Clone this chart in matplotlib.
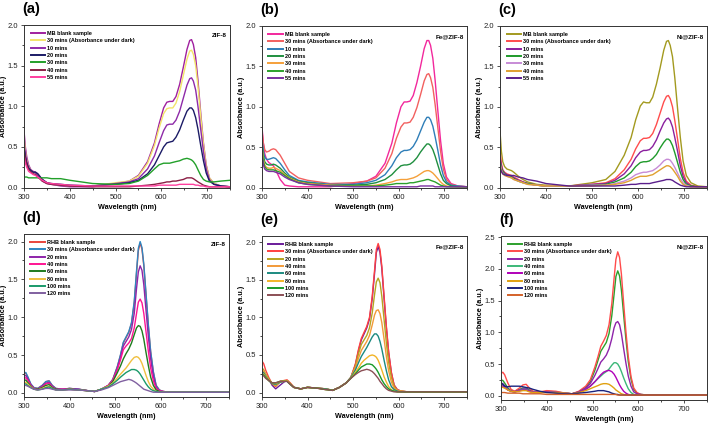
import matplotlib
matplotlib.use("Agg")
import matplotlib.pyplot as plt
from matplotlib.ticker import MultipleLocator

plt.rcParams['font.family'] = ['Liberation Sans', 'DejaVu Sans']
plt.rcParams['font.weight'] = 'bold'

# ---------------- wavelength grids ----------------
W_MB = [300, 303, 306, 310, 315, 320, 325, 330, 340, 350, 360, 380, 400, 450, 500, 530, 550, 570, 585, 595,
        605, 612, 618, 625, 632, 640, 648, 656, 662, 666, 670, 675, 680, 686, 692, 698, 705, 715, 730, 750]
W_RB = [300, 304, 308, 315, 322, 330, 340, 348, 355, 362, 370, 385, 400, 420, 440, 455, 470, 485, 495, 505,
        512, 518, 524, 530, 536, 542, 547, 551, 555, 559, 563, 568, 573, 578, 584, 590, 597, 605, 620, 650, 700, 750]

LABELS_MB = ["MB blank sample", "30 mins (Absorbance under dark)", "10 mins", "20 mins", "30 mins", "40 mins", "55 mins"]
LABELS_RB = ["RHB blank sample", "30 mins (Absorbance under dark)", "20 mins", "40 mins", "60 mins", "80 mins", "100 mins", "120 mins"]

# ---------------- panel (a) ZIF-8 / MB ----------------
A_COLORS = ["#A0209F", "#F2E46A", "#8E2AA8", "#1B1B66", "#22A02A", "#8B1F45", "#FF3D9E"]
A_BLANK = [0.70,0.50,0.38,0.28,0.22,0.20,0.19,0.17,0.10,0.06,0.04,0.02,0.01,0.01,0.05,0.08,0.15,0.32,0.55,0.78,
           0.98,1.05,1.06,1.06,1.12,1.27,1.48,1.70,1.81,1.82,1.76,1.60,1.32,0.92,0.55,0.28,0.12,0.05,0.02,0.01]
A_30D = [0.62,0.45,0.34,0.26,0.21,0.19,0.18,0.16,0.09,0.05,0.04,0.03,0.02,0.02,0.06,0.08,0.14,0.30,0.52,0.73,
         0.91,0.97,0.98,0.98,1.04,1.18,1.38,1.58,1.68,1.69,1.64,1.50,1.25,0.88,0.53,0.27,0.12,0.05,0.02,0.01]
A_10 = [0.55,0.42,0.32,0.25,0.21,0.19,0.18,0.15,0.08,0.05,0.04,0.03,0.02,0.02,0.05,0.07,0.11,0.23,0.39,0.55,
        0.70,0.77,0.78,0.78,0.83,0.94,1.10,1.26,1.34,1.35,1.31,1.20,1.00,0.72,0.44,0.23,0.10,0.04,0.02,0.01]
A_20 = [0.50,0.38,0.30,0.24,0.21,0.19,0.19,0.17,0.10,0.06,0.05,0.04,0.03,0.02,0.04,0.06,0.09,0.17,0.28,0.39,
        0.50,0.55,0.56,0.57,0.62,0.71,0.83,0.94,0.98,0.98,0.95,0.86,0.72,0.52,0.33,0.18,0.08,0.04,0.02,0.01]
A_30 = [0.13,0.13,0.13,0.12,0.12,0.12,0.12,0.12,0.12,0.12,0.11,0.11,0.09,0.05,0.04,0.05,0.08,0.15,0.23,0.28,
        0.30,0.30,0.30,0.31,0.32,0.33,0.35,0.36,0.35,0.34,0.32,0.28,0.22,0.15,0.10,0.08,0.07,0.07,0.08,0.09]
A_40 = [0.45,0.35,0.28,0.22,0.19,0.17,0.16,0.13,0.08,0.05,0.04,0.03,0.02,0.01,0.01,0.01,0.02,0.03,0.04,0.05,
        0.06,0.07,0.07,0.08,0.08,0.09,0.10,0.12,0.12,0.12,0.11,0.09,0.07,0.05,0.03,0.02,0.01,0.01,0.01,0.01]
A_55 = [0.40,0.30,0.25,0.20,0.18,0.16,0.15,0.13,0.09,0.06,0.05,0.04,0.03,0.02,0.02,0.02,0.02,0.02,0.02,0.03,
        0.03,0.03,0.03,0.03,0.03,0.04,0.04,0.04,0.04,0.04,0.04,0.03,0.03,0.02,0.02,0.01,0.01,0.01,0.01,0.01]

# ---------------- panel (b) Fe@ZIF-8 / MB ----------------
B_COLORS = ["#F2289C", "#F2605F", "#2F7EB8", "#1F8F3F", "#F5A03A", "#2CA02C", "#7B2FA0"]
B_BLANK = [0.75,0.55,0.42,0.35,0.31,0.29,0.27,0.22,0.10,0.03,0.02,0.01,0.01,0.01,0.05,0.08,0.14,0.30,0.55,0.80,
           1.00,1.06,1.06,1.07,1.14,1.30,1.50,1.72,1.82,1.82,1.76,1.60,1.33,0.95,0.58,0.30,0.13,0.05,0.02,0.01]
B_30D = [0.70,0.55,0.47,0.44,0.45,0.47,0.48,0.47,0.40,0.30,0.20,0.12,0.09,0.05,0.06,0.08,0.12,0.24,0.42,0.61,
         0.75,0.80,0.80,0.81,0.87,0.99,1.15,1.32,1.40,1.41,1.36,1.24,1.03,0.74,0.45,0.23,0.10,0.04,0.02,0.01]
B_10 = [0.60,0.45,0.38,0.35,0.35,0.36,0.37,0.36,0.30,0.22,0.15,0.09,0.07,0.04,0.04,0.06,0.09,0.16,0.27,0.37,
        0.44,0.46,0.46,0.47,0.51,0.59,0.70,0.81,0.87,0.87,0.84,0.76,0.63,0.46,0.28,0.15,0.07,0.03,0.02,0.01]
B_20 = [0.55,0.40,0.32,0.29,0.28,0.28,0.29,0.28,0.24,0.18,0.13,0.08,0.06,0.03,0.03,0.04,0.06,0.10,0.16,0.22,
        0.27,0.28,0.28,0.29,0.32,0.37,0.44,0.50,0.54,0.54,0.52,0.47,0.39,0.28,0.17,0.09,0.05,0.02,0.01,0.01]
B_30 = [0.50,0.35,0.28,0.25,0.24,0.24,0.25,0.24,0.21,0.16,0.12,0.07,0.05,0.03,0.02,0.02,0.03,0.05,0.07,0.09,
        0.10,0.10,0.10,0.11,0.12,0.14,0.17,0.20,0.21,0.21,0.20,0.18,0.15,0.11,0.07,0.04,0.02,0.01,0.01,0.01]
B_40 = [0.45,0.32,0.26,0.23,0.22,0.22,0.22,0.21,0.19,0.15,0.11,0.06,0.04,0.02,0.02,0.02,0.02,0.03,0.04,0.05,
        0.05,0.05,0.05,0.06,0.06,0.07,0.08,0.09,0.10,0.10,0.09,0.08,0.07,0.05,0.03,0.02,0.01,0.01,0.01,0.01]
B_55 = [0.40,0.28,0.23,0.21,0.20,0.20,0.20,0.19,0.17,0.13,0.10,0.06,0.04,0.02,0.01,0.01,0.01,0.01,0.01,0.01,
        0.01,0.01,0.01,0.01,0.01,0.01,0.02,0.02,0.02,0.02,0.02,0.02,0.01,0.01,0.01,0.01,0.01,0.01,0.01,0.01]

# ---------------- panel (c) Ni@ZIF-8 / MB ----------------
C_COLORS = ["#A39A1F", "#FF4D4D", "#8A1F9E", "#1E9A2A", "#C78BD6", "#E0A030", "#5B1F8C"]
C_BLANK = [0.70,0.45,0.32,0.26,0.23,0.22,0.21,0.19,0.14,0.10,0.07,0.04,0.03,0.02,0.06,0.10,0.20,0.40,0.62,0.84,
           1.01,1.06,1.05,1.05,1.12,1.28,1.48,1.70,1.81,1.82,1.76,1.62,1.36,0.98,0.62,0.33,0.15,0.06,0.02,0.01]
C_30D = [0.45,0.30,0.22,0.19,0.17,0.16,0.15,0.13,0.10,0.07,0.05,0.03,0.02,0.02,0.04,0.06,0.11,0.22,0.35,0.48,
         0.58,0.61,0.61,0.62,0.67,0.78,0.92,1.06,1.13,1.14,1.10,1.00,0.83,0.60,0.36,0.19,0.08,0.03,0.01,0.01]
C_10 = [0.38,0.27,0.21,0.18,0.16,0.15,0.14,0.12,0.09,0.07,0.05,0.03,0.02,0.02,0.04,0.05,0.09,0.17,0.27,0.37,
        0.44,0.46,0.46,0.47,0.51,0.59,0.70,0.80,0.85,0.86,0.83,0.75,0.62,0.45,0.27,0.14,0.06,0.02,0.01,0.01]
C_20 = [0.33,0.24,0.20,0.17,0.15,0.14,0.13,0.11,0.08,0.06,0.05,0.03,0.02,0.02,0.03,0.04,0.07,0.12,0.19,0.26,
        0.31,0.32,0.32,0.33,0.36,0.41,0.49,0.56,0.60,0.60,0.58,0.52,0.43,0.31,0.19,0.10,0.04,0.02,0.01,0.01]
C_30 = [0.30,0.22,0.18,0.16,0.14,0.13,0.12,0.10,0.08,0.06,0.04,0.03,0.02,0.02,0.03,0.03,0.05,0.08,0.12,0.16,
        0.18,0.19,0.19,0.20,0.21,0.24,0.28,0.33,0.35,0.35,0.34,0.30,0.25,0.18,0.11,0.06,0.03,0.01,0.01,0.01]
C_40 = [0.28,0.21,0.17,0.15,0.14,0.13,0.12,0.10,0.08,0.06,0.04,0.03,0.02,0.02,0.02,0.03,0.04,0.06,0.09,0.12,
        0.14,0.14,0.14,0.15,0.16,0.19,0.22,0.25,0.27,0.27,0.26,0.23,0.19,0.14,0.08,0.04,0.02,0.01,0.01,0.01]
C_55 = [0.25,0.20,0.17,0.16,0.15,0.15,0.15,0.15,0.13,0.12,0.10,0.08,0.05,0.02,0.02,0.02,0.02,0.03,0.04,0.04,
        0.05,0.05,0.05,0.05,0.06,0.07,0.08,0.09,0.10,0.10,0.10,0.09,0.07,0.05,0.03,0.02,0.01,0.01,0.01,0.01]

# ---------------- panel (d) ZIF-8 / RHB ----------------
D_COLORS = ["#E8453C", "#2E86C1", "#8E24AA", "#FF1493", "#1E7B1E", "#F0C040", "#1A9A6A", "#8060A0"]
D_BLANK = [0.26,0.26,0.21,0.11,0.07,0.06,0.10,0.15,0.16,0.10,0.06,0.05,0.06,0.05,0.03,0.02,0.05,0.10,0.18,0.35,0.50,
           0.66,0.73,0.80,0.92,1.19,1.58,1.88,1.98,1.90,1.68,1.28,0.88,0.54,0.27,0.10,0.04,0.02,0.01,0.01,0.01,0.01]
D_30D = [0.27,0.27,0.22,0.12,0.07,0.06,0.10,0.15,0.16,0.10,0.06,0.05,0.06,0.05,0.03,0.02,0.05,0.10,0.18,0.35,0.51,
         0.67,0.74,0.81,0.93,1.21,1.61,1.91,2.00,1.92,1.70,1.30,0.90,0.55,0.28,0.10,0.04,0.02,0.01,0.01,0.01,0.01]
D_20 = [0.23,0.23,0.19,0.11,0.06,0.05,0.09,0.13,0.14,0.09,0.05,0.05,0.06,0.05,0.03,0.02,0.05,0.10,0.17,0.33,0.47,
        0.62,0.68,0.74,0.84,1.05,1.38,1.60,1.68,1.62,1.43,1.08,0.74,0.45,0.22,0.08,0.03,0.02,0.01,0.01,0.01,0.01]
D_40 = [0.20,0.20,0.17,0.10,0.06,0.05,0.08,0.12,0.13,0.08,0.05,0.05,0.05,0.04,0.03,0.02,0.05,0.10,0.17,0.31,0.44,
        0.57,0.62,0.66,0.72,0.86,1.05,1.20,1.24,1.19,1.05,0.80,0.55,0.33,0.16,0.06,0.03,0.02,0.01,0.01,0.01,0.01]
D_60 = [0.17,0.17,0.14,0.09,0.05,0.05,0.07,0.10,0.11,0.07,0.05,0.04,0.05,0.04,0.03,0.02,0.05,0.09,0.15,0.27,0.36,
        0.45,0.52,0.58,0.66,0.77,0.86,0.89,0.88,0.82,0.71,0.53,0.36,0.21,0.10,0.04,0.02,0.01,0.01,0.01,0.01,0.01]
D_80 = [0.14,0.14,0.12,0.08,0.05,0.04,0.06,0.08,0.09,0.06,0.04,0.04,0.05,0.04,0.03,0.02,0.05,0.09,0.13,0.20,0.25,
        0.29,0.33,0.38,0.43,0.47,0.48,0.47,0.44,0.39,0.32,0.23,0.15,0.09,0.05,0.02,0.01,0.01,0.01,0.01,0.01,0.01]
D_100 = [0.12,0.12,0.10,0.07,0.05,0.04,0.05,0.07,0.08,0.06,0.04,0.04,0.05,0.04,0.03,0.02,0.05,0.08,0.12,0.17,0.21,
         0.24,0.27,0.29,0.31,0.31,0.30,0.28,0.25,0.21,0.17,0.12,0.08,0.05,0.03,0.02,0.01,0.01,0.01,0.01,0.01,0.01]
D_120 = [0.10,0.10,0.09,0.07,0.05,0.04,0.05,0.06,0.06,0.05,0.04,0.04,0.04,0.04,0.03,0.02,0.04,0.07,0.10,0.13,0.15,
         0.16,0.17,0.18,0.17,0.15,0.13,0.11,0.09,0.07,0.05,0.04,0.03,0.02,0.01,0.01,0.01,0.01,0.01,0.01,0.01,0.01]

# ---------------- panel (e) Fe@ZIF-8 / RHB ----------------
E_COLORS = ["#6A1B9A", "#FF4040", "#B5A520", "#F29A38", "#1B8A80", "#F2B428", "#1A9A2A", "#8B4F55"]
E_BLANK = [0.28,0.25,0.22,0.18,0.10,0.05,0.10,0.14,0.16,0.12,0.07,0.05,0.07,0.06,0.05,0.03,0.07,0.13,0.20,0.37,0.56,
           0.70,0.78,0.86,0.98,1.25,1.58,1.86,1.94,1.86,1.65,1.25,0.86,0.53,0.26,0.10,0.04,0.02,0.01,0.01,0.01,0.01]
E_30D = [0.42,0.38,0.30,0.20,0.12,0.08,0.15,0.16,0.17,0.13,0.07,0.05,0.07,0.06,0.05,0.03,0.07,0.13,0.20,0.38,0.58,
         0.72,0.80,0.88,1.00,1.28,1.62,1.90,1.98,1.90,1.68,1.28,0.88,0.54,0.27,0.10,0.04,0.02,0.01,0.01,0.01,0.01]
E_20 = [0.33,0.30,0.25,0.18,0.12,0.09,0.14,0.15,0.16,0.12,0.07,0.05,0.07,0.06,0.05,0.03,0.07,0.13,0.20,0.35,0.52,
        0.64,0.70,0.76,0.86,1.06,1.30,1.47,1.52,1.46,1.28,0.97,0.66,0.40,0.20,0.08,0.03,0.02,0.01,0.01,0.01,0.01]
E_40 = [0.30,0.28,0.24,0.17,0.12,0.10,0.14,0.15,0.16,0.12,0.07,0.05,0.07,0.06,0.05,0.03,0.07,0.13,0.20,0.33,0.46,
        0.56,0.62,0.68,0.76,0.90,1.03,1.09,1.10,1.05,0.93,0.71,0.48,0.29,0.14,0.06,0.03,0.02,0.01,0.01,0.01,0.01]
E_60 = [0.28,0.26,0.22,0.16,0.12,0.11,0.14,0.15,0.15,0.11,0.07,0.05,0.07,0.06,0.05,0.03,0.07,0.13,0.20,0.30,0.40,
        0.48,0.54,0.60,0.67,0.74,0.78,0.78,0.75,0.68,0.58,0.43,0.29,0.17,0.08,0.04,0.02,0.01,0.01,0.01,0.01,0.01]
E_80 = [0.26,0.24,0.21,0.16,0.13,0.12,0.15,0.16,0.16,0.11,0.07,0.05,0.07,0.06,0.04,0.03,0.07,0.13,0.19,0.27,0.33,
        0.39,0.43,0.46,0.49,0.50,0.49,0.47,0.43,0.37,0.30,0.21,0.14,0.08,0.04,0.02,0.01,0.01,0.01,0.01,0.01,0.01]
E_100 = [0.25,0.23,0.20,0.16,0.13,0.13,0.15,0.15,0.15,0.11,0.07,0.05,0.07,0.06,0.04,0.03,0.07,0.13,0.19,0.25,0.30,
         0.34,0.36,0.38,0.38,0.37,0.34,0.31,0.27,0.22,0.17,0.12,0.08,0.05,0.03,0.02,0.01,0.01,0.01,0.01,0.01,0.01]
E_120 = [0.24,0.22,0.19,0.16,0.13,0.13,0.15,0.15,0.15,0.11,0.07,0.05,0.07,0.06,0.04,0.03,0.07,0.13,0.19,0.24,0.27,
         0.29,0.30,0.31,0.30,0.28,0.25,0.22,0.19,0.15,0.12,0.08,0.05,0.03,0.02,0.01,0.01,0.01,0.01,0.01,0.01,0.01]

# ---------------- panel (f) Ni@ZIF-8 / RHB ----------------
F_COLORS = ["#2CA02C", "#FF4B4B", "#8E24AA", "#3CB878", "#B000B8", "#E0A010", "#1A237E", "#D4622A"]
F_BLANK = [0.25,0.24,0.20,0.12,0.08,0.07,0.10,0.12,0.12,0.09,0.06,0.05,0.07,0.06,0.04,0.03,0.06,0.13,0.22,0.40,0.56,
           0.70,0.77,0.84,0.98,1.26,1.60,1.88,1.97,1.89,1.67,1.27,0.88,0.54,0.26,0.10,0.04,0.02,0.01,0.01,0.01,0.01]
F_30D = [0.35,0.37,0.33,0.20,0.10,0.07,0.12,0.17,0.18,0.12,0.07,0.06,0.08,0.07,0.04,0.03,0.07,0.15,0.25,0.45,0.62,
         0.78,0.86,0.95,1.12,1.45,1.85,2.15,2.27,2.18,1.92,1.45,1.00,0.62,0.30,0.12,0.05,0.02,0.01,0.01,0.01,0.01]
F_20 = [0.20,0.19,0.16,0.10,0.07,0.06,0.09,0.11,0.11,0.08,0.06,0.05,0.06,0.05,0.04,0.03,0.06,0.12,0.19,0.32,0.43,
        0.53,0.58,0.64,0.74,0.90,1.07,1.15,1.17,1.12,0.98,0.74,0.51,0.31,0.15,0.06,0.03,0.02,0.01,0.01,0.01,0.01]
F_40 = [0.18,0.17,0.14,0.09,0.07,0.06,0.08,0.10,0.10,0.07,0.05,0.05,0.06,0.05,0.04,0.03,0.05,0.10,0.15,0.22,0.27,
        0.31,0.35,0.38,0.42,0.48,0.52,0.52,0.50,0.45,0.38,0.28,0.19,0.11,0.05,0.02,0.01,0.01,0.01,0.01,0.01,0.01]
F_60 = [0.16,0.15,0.13,0.09,0.07,0.06,0.08,0.09,0.09,0.07,0.05,0.05,0.06,0.05,0.04,0.03,0.05,0.10,0.15,0.22,0.28,
        0.33,0.37,0.39,0.40,0.38,0.34,0.29,0.23,0.17,0.12,0.07,0.04,0.02,0.01,0.01,0.01,0.01,0.01,0.01,0.01,0.01]
F_80 = [0.14,0.13,0.12,0.09,0.07,0.06,0.07,0.08,0.08,0.06,0.05,0.05,0.05,0.05,0.04,0.03,0.05,0.08,0.11,0.14,0.16,
        0.18,0.19,0.19,0.18,0.15,0.12,0.09,0.07,0.05,0.03,0.02,0.01,0.01,0.01,0.01,0.01,0.01,0.01,0.01,0.01,0.01]
F_100 = [0.20,0.18,0.15,0.14,0.15,0.15,0.15,0.14,0.13,0.12,0.10,0.07,0.05,0.04,0.03,0.03,0.04,0.05,0.06,0.07,0.08,
         0.08,0.08,0.07,0.06,0.04,0.03,0.02,0.02,0.01,0.01,0.01,0.01,0.01,0.01,0.01,0.01,0.01,0.01,0.01,0.01,0.01]
F_120 = [0.05,0.05,0.05,0.04,0.04,0.04,0.04,0.03,0.03,0.03,0.03,0.03,0.02,0.02,0.02,0.02,0.02,0.02,0.02,0.02,0.02,
         0.02,0.02,0.02,0.02,0.02,0.02,0.02,0.01,0.01,0.01,0.01,0.01,0.01,0.01,0.01,0.01,0.01,0.01,0.01,0.01,0.01]

PANELS = [
    ("(a)", "ZIF-8", W_MB, LABELS_MB, A_COLORS, [A_BLANK, A_30D, A_10, A_20, A_30, A_40, A_55],
     (25, 188, 24, 230), (-0.005, 2.0)),
    ("(b)", "Fe@ZIF-8", W_MB, LABELS_MB, B_COLORS, [B_BLANK, B_30D, B_10, B_20, B_30, B_40, B_55],
     (26, 188, 262, 467), (-0.005, 2.0)),
    ("(c)", "Ni@ZIF-8", W_MB, LABELS_MB, C_COLORS, [C_BLANK, C_30D, C_10, C_20, C_30, C_40, C_55],
     (26, 188, 500, 707), (-0.005, 2.0)),
    ("(d)", "ZIF-8", W_RB, LABELS_RB, D_COLORS, [D_BLANK, D_30D, D_20, D_40, D_60, D_80, D_100, D_120],
     (234, 397, 24, 229), (-0.053, 2.10)),
    ("(e)", "Fe@ZIF-8", W_RB, LABELS_RB, E_COLORS, [E_BLANK, E_30D, E_20, E_40, E_60, E_80, E_100, E_120],
     (236, 397, 262, 467), (-0.058, 2.08)),
    ("(f)", "Ni@ZIF-8", W_RB, LABELS_RB, F_COLORS, [F_BLANK, F_30D, F_20, F_40, F_60, F_80, F_100, F_120],
     (236, 400, 501, 707), (-0.068, 2.52)),
]

FW, FH = 709, 423
fig = plt.figure(figsize=(FW / 100, FH / 100), dpi=100)

for letter, tag, wl, labels, colors, series, (top, bot, left, right), ylim in PANELS:
    w, h = right - left, bot - top
    ax = fig.add_axes([left / FW, 1 - bot / FH, w / FW, h / FH])
    for lab, col, vals in zip(labels, colors, series):
        ax.plot(wl, vals, color=col, lw=1.0, label=lab)
    ax.set_xlim(300, 750)
    ax.set_ylim(*ylim)
    ax.xaxis.set_major_locator(MultipleLocator(100))
    ax.xaxis.set_minor_locator(MultipleLocator(50))
    ax.yaxis.set_major_locator(MultipleLocator(0.5))
    ax.yaxis.set_minor_locator(MultipleLocator(0.25))
    ax.tick_params(which='major', direction='out', length=2.5, width=0.6, labelsize=5.5, pad=1.5, colors='#333333')
    ax.tick_params(which='minor', direction='out', length=1.5, width=0.5)
    for lbl in ax.get_xticklabels() + ax.get_yticklabels():
        lbl.set_fontweight('normal')
        lbl.set_color('#222222')
    for s in ax.spines.values():
        s.set_linewidth(0.7)
        s.set_color('#333333')
    ax.set_xlabel("Wavelength (nm)", fontsize=5.2, fontweight='bold')
    ax.set_ylabel("Absorbance (a.u.)", fontsize=5.2, fontweight='bold')
    ax.xaxis.set_label_coords(0.5, -16.0 / h)
    ax.yaxis.set_label_coords(-17.0 / w, 0.5)
    leg = ax.legend(loc='upper left', frameon=False, fontsize=4.0, handlelength=2.6, handletextpad=0.4,
                    labelspacing=0.42, borderaxespad=0.4, bbox_to_anchor=(0.01, 0.99))
    for t in leg.get_texts():
        t.set_fontweight('bold')
    for hl in leg.get_lines():
        hl.set_linewidth(1.4)
    ax.text(0.985, 0.95, tag, transform=ax.transAxes, ha='right', va='top', fontsize=4.5, fontweight='bold')
    fig.text((left - 2) / FW, 1 - (top - 9) / FH, letter, ha='left', va='bottom', fontsize=10.5, fontweight='bold')

fig.savefig("out.png", dpi=100, facecolor='white')
